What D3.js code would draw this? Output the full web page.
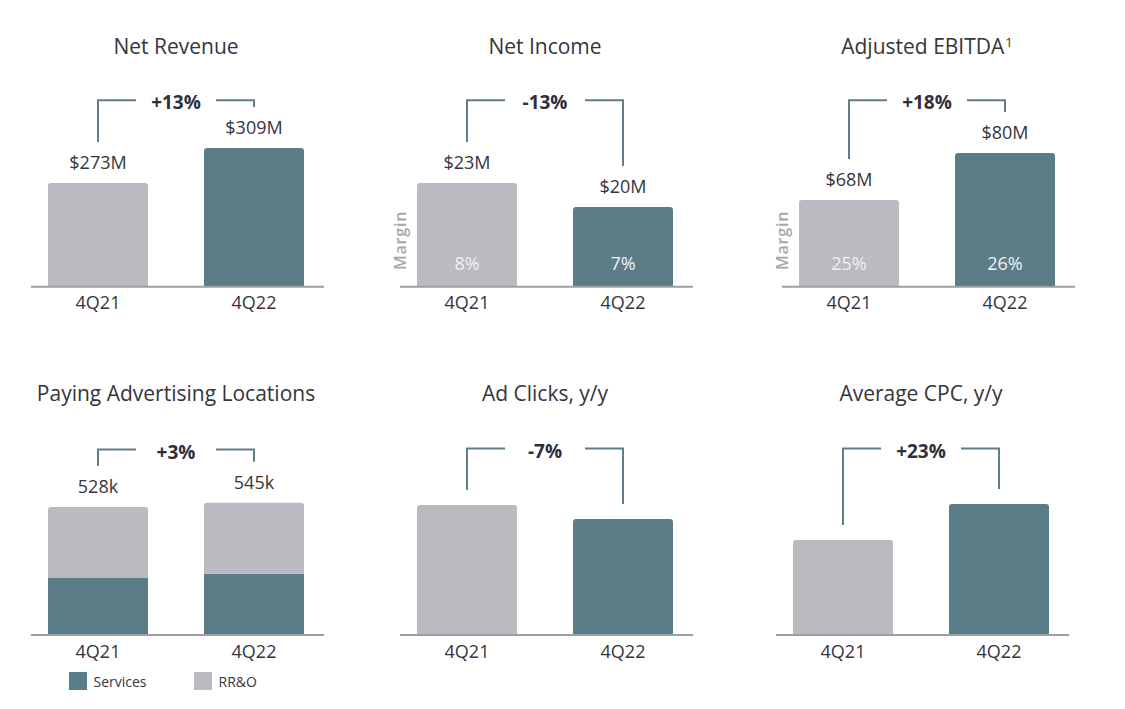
<!DOCTYPE html>
<html>
<head>
<meta charset="utf-8">
<script src="https://cdn.jsdelivr.net/npm/d3@7"></script>
<style>
  html, body { margin: 0; padding: 0; background: #ffffff; }
  svg { display: block; font-family: "Open Sans", "Noto Sans", sans-serif; }
</style>
</head>
<body>
<svg id="chart" width="1125" height="709"></svg>
<script>
// ---------------- data ----------------
const categories = ["4Q21", "4Q22"];
const panelTitles = ["Net Revenue", "Net Income", "Adjusted EBITDA", "Paying Advertising Locations", "Ad Clicks, y/y", "Average CPC, y/y"];
const titleSuperscripts = ["", "", "1", "", "", ""];
const netRevenue = [273, 309];          // $M
const netIncome = [23, 20];             // $M
const adjustedEbitda = [68, 80];        // $M
const netIncomeMargin = ["8%", "7%"];
const ebitdaMargin = ["25%", "26%"];
const servicesLocations = [235, 252];   // k (estimated split)
const rroLocations = [293, 293];        // k (estimated split)
const totalLocations = [528, 545];      // k
const adClicksIndex = [100, 93];        // indexed, 4Q21 = 100
const avgCpcIndex = [100, 123];         // indexed, 4Q21 = 100
const changeLabels = ["+13%", "-13%", "+18%", "+3%", "-7%", "+23%"];
const legendLabels = ["Services", "RR&O"];
// value-axis domains (chart uses truncated axes)
const yDomains = [[166.3, 310.3], [10.04, 27.54], [45.9, 81.6], [0, 577], [35, 105], [39.3, 128.8]];

// ---------------- style / layout ----------------
const GRAY = "#bbbac0", TEAL = "#5a7d87", TEXT = "#35353b", AXIS = "#9e9ea3", BRACKET = "#5e7f89";
const colorsByCat = [GRAY, TEAL];
const layout = [
  { x0: 48,  x1: 304,  base: 286.7, bracketY: 100.3, titleY: 54 },
  { x0: 417, x1: 673,  base: 286.7, bracketY: 100.3, titleY: 54 },
  { x0: 799, x1: 1055, base: 286.7, bracketY: 100.3, titleY: 54 },
  { x0: 48,  x1: 304,  base: 635,   bracketY: 449.5, titleY: 401 },
  { x0: 417, x1: 673,  base: 635,   bracketY: 448.5, titleY: 401 },
  { x0: 793, x1: 1049, base: 635,   bracketY: 448.5, titleY: 401 }
];
const MAXH = 140;

const svg = d3.select("#chart");

function topRounded(x, y, w, h, r) {
  r = Math.min(r, h / 2, w / 2);
  return `M${x},${y + h}V${y + r}Q${x},${y} ${x + r},${y}H${x + w - r}Q${x + w},${y} ${x + w},${y + r}V${y + h}Z`;
}

const panels = [
  { values: netRevenue, fmt: d => `$${d}M` },
  { values: netIncome, fmt: d => `$${d}M`, margin: netIncomeMargin },
  { values: adjustedEbitda, fmt: d => `$${d}M`, margin: ebitdaMargin },
  { values: totalLocations, fmt: d => `${d}k`, stacked: true },
  { values: adClicksIndex },
  { values: avgCpcIndex }
];

panels.forEach((p, i) => {
  const L = layout[i];
  const g = svg.append("g");
  const x = d3.scaleBand().domain(categories).range([L.x0, L.x1]).paddingInner(0.359).paddingOuter(0);
  const y = d3.scaleLinear().domain(yDomains[i]).range([L.base, L.base - MAXH]);
  const bw = x.bandwidth();
  const cx = c => x(c) + bw / 2;
  const panelCx = (cx(categories[0]) + cx(categories[1])) / 2;

  // title
  const t = g.append("text").attr("x", panelCx).attr("y", L.titleY)
    .attr("text-anchor", "middle").attr("fill", TEXT)
    .style("font-size", "21px").text(panelTitles[i]);
  if (titleSuperscripts[i]) {
    t.append("tspan").attr("dx", 1).attr("dy", -7).style("font-size", "13px").text(titleSuperscripts[i]);
  }

  // bars
  if (p.stacked) {
    const rows = categories.map((c, k) => ({ cat: c, Services: servicesLocations[k], "RR&O": rroLocations[k] }));
    const stack = d3.stack().keys(legendLabels)(rows);
    const stackColors = [TEAL, GRAY];
    stack.forEach((layer, li) => {
      g.selectAll(null).data(layer).enter().append("path")
        .attr("fill", stackColors[li])
        .attr("d", d => {
          const yt = y(d[1]), yb = y(d[0]);
          return li === stack.length - 1
            ? topRounded(x(d.data.cat), yt, bw, yb - yt, 3)
            : `M${x(d.data.cat)},${yb}V${yt}H${x(d.data.cat) + bw}V${yb}Z`;
        });
    });
  } else {
    g.selectAll(null).data(p.values).enter().append("path")
      .attr("fill", (d, k) => colorsByCat[k])
      .attr("d", (d, k) => topRounded(x(categories[k]), y(d), bw, L.base - y(d), 3));
  }

  // axis baseline
  g.append("line").attr("x1", L.x0 - 17).attr("x2", L.x1 + 20)
    .attr("y1", L.base).attr("y2", L.base)
    .attr("stroke", AXIS).attr("stroke-width", 2);

  // category labels
  g.selectAll(null).data(categories).enter().append("text")
    .attr("x", d => cx(d)).attr("y", L.base + 22.5)
    .attr("text-anchor", "middle").attr("fill", TEXT)
    .style("font-size", "18px").text(d => d);

  // value labels
  if (p.fmt) {
    g.selectAll(null).data(p.values).enter().append("text")
      .attr("x", (d, k) => cx(categories[k])).attr("y", d => y(d) - 14)
      .attr("text-anchor", "middle").attr("fill", TEXT)
      .style("font-size", "18px").text(d => p.fmt(d));
  }

  // margin labels
  if (p.margin) {
    g.selectAll(null).data(p.margin).enter().append("text")
      .attr("x", (d, k) => cx(categories[k])).attr("y", L.base - 16.7)
      .attr("text-anchor", "middle").attr("fill", "#f1f1f3")
      .style("font-size", "18px").text(d => d);
    g.append("text")
      .attr("transform", `translate(${x(categories[0]) - 11},${L.base - 16.7}) rotate(-90)`)
      .attr("text-anchor", "start").attr("fill", "#a6a6ab")
      .style("font-size", "16px").style("font-weight", "600").style("letter-spacing", "0.8px").text("Margin");
  }

  // change bracket
  const off = p.fmt ? 41 : 15;
  const xl = cx(categories[0]), xr = cx(categories[1]);
  const yl = y(p.values[0]) - off, yr = y(p.values[1]) - off;
  const by = L.bracketY;
  g.append("path").attr("fill", "none").attr("stroke", BRACKET).attr("stroke-width", 2)
    .attr("d", `M${xl},${yl}V${by}H${panelCx - 40}`);
  g.append("path").attr("fill", "none").attr("stroke", BRACKET).attr("stroke-width", 2)
    .attr("d", `M${panelCx + 40},${by}H${xr}V${yr}`);
  g.append("text").attr("x", panelCx).attr("y", by + 9)
    .attr("text-anchor", "middle").attr("fill", "#2f2f3a")
    .style("font-size", "19px").style("font-weight", "700").text(changeLabels[i]);
});

// legend (panel 4)
const legendX = [69, 194];
const legendColors = [TEAL, GRAY];
const lg = svg.append("g");
legendLabels.forEach((lab, k) => {
  lg.append("rect").attr("x", legendX[k]).attr("y", 672).attr("width", 18).attr("height", 18).attr("fill", legendColors[k]);
  lg.append("text").attr("x", legendX[k] + 24.5).attr("y", 687).attr("fill", TEXT)
    .style("font-size", "14px").text(lab);
});
</script>
</body>
</html>
